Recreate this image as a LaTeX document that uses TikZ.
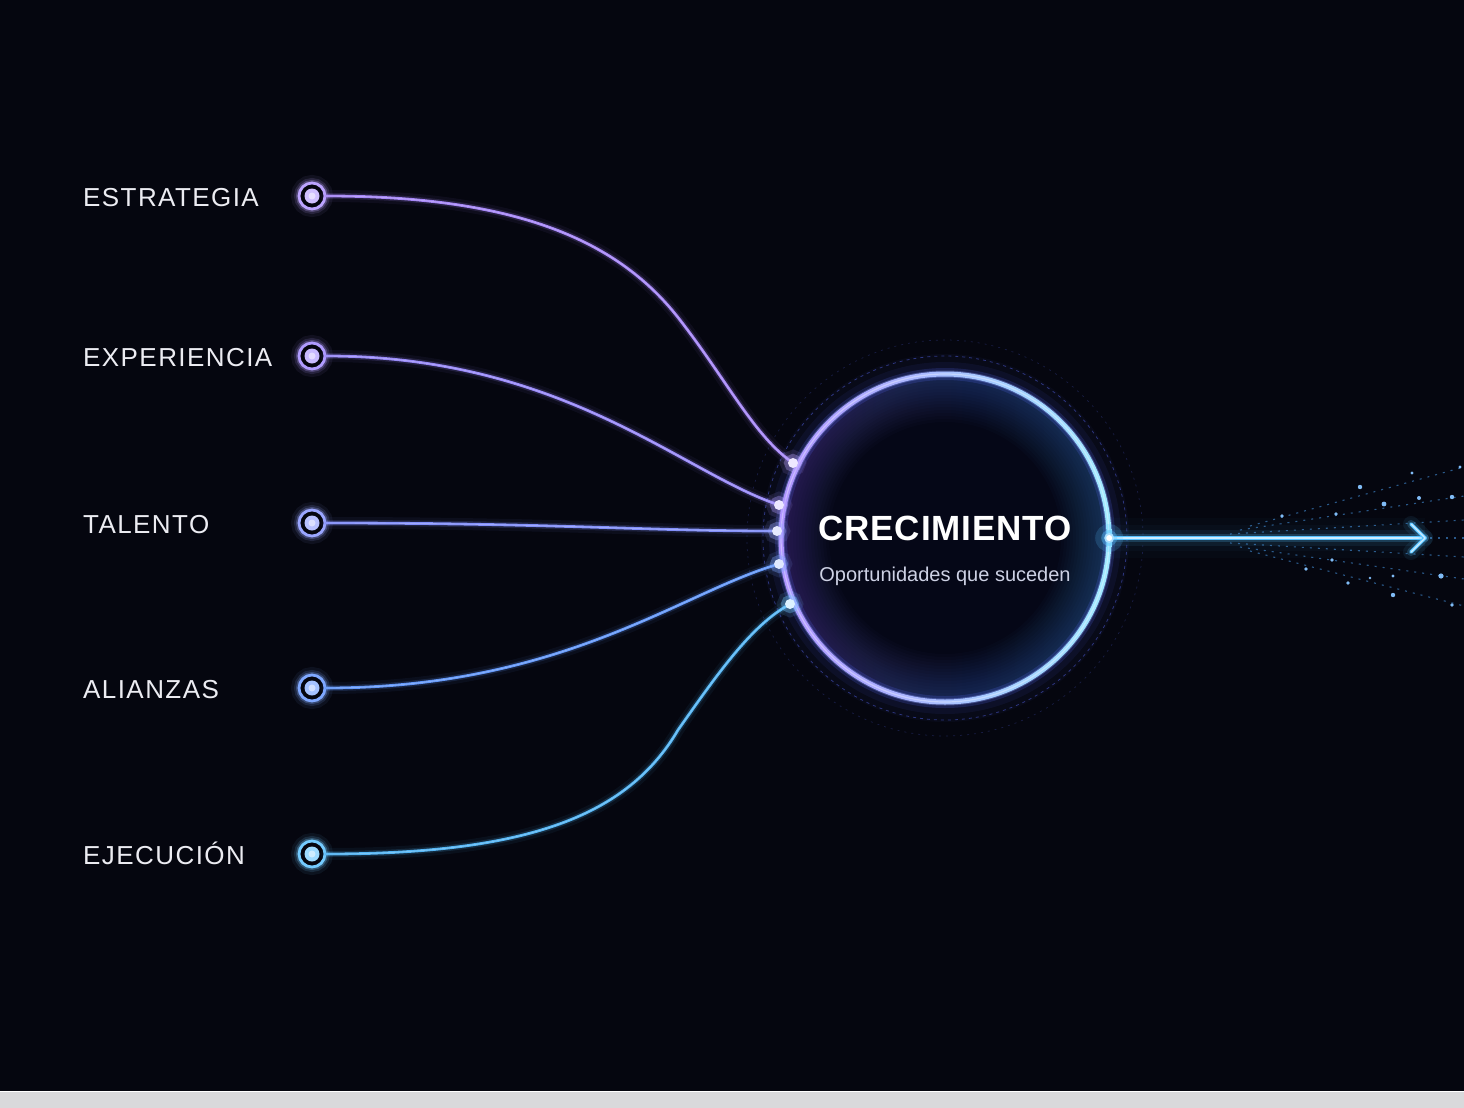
\documentclass[tikz,border=0pt]{standalone}
\usepackage{fontspec}
\setmainfont{Liberation Sans}
\newfontfamily\labelfont[LetterSpace=5.5]{Liberation Sans}
\newfontfamily\titlefont[LetterSpace=2.5]{Liberation Sans}
\usetikzlibrary{calc}
\definecolor{bg}{HTML}{05060F}
\definecolor{stripc}{HTML}{D9D9DB}
\definecolor{lbltext}{HTML}{ECECF2}
\definecolor{subtext}{HTML}{CDD1E4}
\definecolor{cA}{HTML}{A585F7}
\definecolor{cB}{HTML}{9687F8}
\definecolor{cC}{HTML}{818EFA}
\definecolor{cD}{HTML}{6196F8}
\definecolor{cE}{HTML}{52B4F4}
\definecolor{rA}{HTML}{BCA4FF}
\definecolor{rB}{HTML}{B09CFF}
\definecolor{rC}{HTML}{9AA6FF}
\definecolor{rD}{HTML}{7FA8FF}
\definecolor{rE}{HTML}{74CBFF}
\definecolor{ringL}{HTML}{B195FF}
\definecolor{ringM}{HTML}{8FA2FF}
\definecolor{ringR}{HTML}{A0EAFF}
\definecolor{glowc}{HTML}{5A6CFF}
\definecolor{innerL}{HTML}{7A5CE0}
\definecolor{innerM}{HTML}{3A48C8}
\definecolor{innerR}{HTML}{3FA0F0}
\definecolor{beamc}{HTML}{56C2FF}
\definecolor{dotc}{HTML}{4A9EF0}
\definecolor{orbC}{HTML}{050717}
\tikzset{
  lbl/.style={text=lbltext, inner sep=0pt, font=\labelfont\fontsize{26}{30}\selectfont},
  marker/.style={circle, inner sep=0pt, minimum size=26pt, draw=#1, line width=2.8pt, fill=bg,
    preaction={draw=#1, line width=16pt, opacity=0.07},
    preaction={draw=#1, line width=10pt, opacity=0.14},
    preaction={draw=#1, line width=6pt, opacity=0.28},
    path picture={\fill[#1!70!white] (path picture bounding box.center) circle[radius=7.5pt];
                  \fill[white, opacity=0.5] (path picture bounding box.center) circle[radius=3.5pt];}},
  wire/.style={draw=#1, line width=2.8pt, line cap=round,
    preaction={draw=#1, line width=12pt, opacity=0.06, line cap=round},
    preaction={draw=#1, line width=6pt, opacity=0.16, line cap=round},
    postaction={draw=white, opacity=0.25, line width=0.9pt, line cap=round}},
  tipspot/.style={circle, inner sep=0pt, minimum size=10pt},
  tipglow/.style={fill=#1!25!white,
    preaction={draw=#1, line width=16pt, opacity=0.12},
    preaction={draw=#1, line width=8pt, opacity=0.35}},
  beam/.style={draw=beamc, line width=3.6pt, line cap=round, line join=round,
    preaction={draw=beamc, line width=16pt, opacity=0.08, line cap=round, line join=round},
    preaction={draw=beamc, line width=8pt, opacity=0.2, line cap=round, line join=round},
    postaction={draw=white!70!beamc, line width=1.4pt, line cap=round, line join=round}},
  spark/.style={draw=dotc, line width=1.1pt, opacity=0.55, dash pattern=on 2pt off 6pt},
}
\begin{document}
\begin{tikzpicture}[x=1pt, y=-1pt]
\useasboundingbox (0,0) rectangle (1464,1108);
% background
\fill[bg] (0,0) rectangle (1464,1091);
\fill[stripc] (0,1091) rectangle (1464,1108);
\draw[white, line width=1.2pt] (0,1091.6) -- (1464,1091.6);

% hub
\node[circle, inner sep=0pt, minimum size=328pt] (hub) at (945,538) {};
% soft halo
\foreach \r in {170,178,...,290}
  \fill[glowc, opacity=0.005] (hub.center) circle[radius=\r];
\draw[draw=glowc, opacity=0.45, line width=0.8pt, dash pattern=on 3pt off 4pt] (hub.center) circle[radius=182];
\draw[draw=glowc, opacity=0.22, line width=0.7pt, dash pattern=on 2pt off 5pt] (hub.center) circle[radius=198];
% ring glow outside
\draw[draw=glowc, opacity=0.04, line width=40pt] (hub.center) circle[radius=164];
\draw[draw=glowc, opacity=0.07, line width=24pt] (hub.center) circle[radius=164];
\fill[orbC] (hub.center) circle[radius=164];
% glassy inner glow
\foreach \w in {3,6,...,48}
  \path[left color=innerL, middle color=innerM, right color=innerR, opacity=0.022, even odd rule]
    (hub.center) circle[radius=164] (hub.center) circle[radius=164-\w];
\draw[draw=glowc, opacity=0.18, line width=12pt] (hub.center) circle[radius=164];
\draw[draw=ringM, opacity=0.35, line width=7pt] (hub.center) circle[radius=164];
\path[left color=ringL, middle color=ringM, right color=ringR, even odd rule]
  (hub.center) circle[radius=166.5] (hub.center) circle[radius=161.5];
\draw[white, opacity=0.35, line width=1.2pt] (hub.center) circle[radius=164];

% texts in hub
\node[text=white, inner sep=0pt, anchor=base, font=\titlefont\bfseries\fontsize{35}{40}\selectfont] (title) at (945,540) {CRECIMIENTO};
\node[text=subtext, inner sep=0pt, anchor=base, font=\fontsize{20}{24}\selectfont] (sub) at (945,581) {Oportunidades que suceden};

% output beam
\coordinate (tip) at (1425,538);
\draw[draw=beamc, opacity=0.025, line width=40pt] (hub.east) -- (tip);
\draw[draw=beamc, opacity=0.03, line width=26pt] (hub.east) -- (tip);
\draw[spark] (1250,526) -- (1464,467);
\draw[spark] (1240,530) -- (1464,496);
\draw[spark] (1230,534) -- (1464,520);
\draw[spark] (1430,538) -- (1464,538);
\draw[spark] (1230,543) -- (1464,557);
\draw[spark] (1240,547) -- (1464,579);
\draw[spark] (1250,551) -- (1464,606);
\foreach \p/\r in {{1282,516}/1.8, {1360,487}/2.2, {1384,504}/2.4, {1412,473}/1.6, {1419,498}/2, {1452,497}/2.2, {1336,514}/1.8,
                   {1332,560}/1.8, {1306,569}/1.8, {1348,583}/1.8, {1370,578}/1.4, {1393,576}/1.6, {1441,576}/2.6, {1393,595}/2.2, {1452,605}/1.8, {1460,467}/1.6}
  \fill[dotc!70!white] (\p) circle[radius=\r];
\draw[beam] (hub.east) -- (tip);
\draw[beam] ($(tip)+(-14,-14)$) -- (tip) -- ($(tip)+(-14,14)$);
\fill[beamc, opacity=0.18] (hub.east) circle[radius=14];
\fill[beamc, opacity=0.35] (hub.east) circle[radius=8];
\fill[white!50!beamc] (hub.east) circle[radius=5];
\fill[white] (hub.east) circle[radius=3];

% endpoint spots on the hub
\node[tipspot] (d1) at (793,463) {};
\node[tipspot] (d2) at (779,505) {};
\node[tipspot] (d3) at (777,531) {};
\node[tipspot] (d4) at (779,564) {};
\node[tipspot] (d5) at (790,604) {};

% input markers
\node[marker=rA] (n1) at (312,196) {};
\node[marker=rB] (n2) at (312,356) {};
\node[marker=rC] (n3) at (312,523) {};
\node[marker=rD] (n4) at (312,688) {};
\node[marker=rE] (n5) at (312,854) {};

% labels
\node[lbl, anchor=base west] (l1) at (83,206) {ESTRATEGIA};
\node[lbl, anchor=base west] (l2) at (83,366) {EXPERIENCIA};
\node[lbl, anchor=base west] (l3) at (83,533) {TALENTO};
\node[lbl, anchor=base west] (l4) at (83,698) {ALIANZAS};
\node[lbl, anchor=base west] (l5) at (83,864) {EJECUCIÓN};

% connectors
\draw[wire=cA] (n1.east) .. controls (520,196) and (620,242) .. (680,320) .. controls (725,378) and (753,433) .. (d1);
\draw[wire=cB] (n2.east) .. controls (560,356) and (680,470) .. (d2);
\draw[wire=cC] (n3.east) .. controls (550,523) and (650,531) .. (d3);
\draw[wire=cD] (n4.east) .. controls (560,688) and (680,594) .. (d4);
\draw[wire=cE] (n5.east) .. controls (530,854) and (628,815) .. (678,730) .. controls (718,673) and (750,628) .. (d5);

% glowing spots
\path[tipglow=rA] (d1.center) circle[radius=5];
\path[tipglow=rB] (d2.center) circle[radius=5];
\path[tipglow=rC] (d3.center) circle[radius=5];
\path[tipglow=rD] (d4.center) circle[radius=5];
\path[tipglow=rE] (d5.center) circle[radius=5];
\end{tikzpicture}
\end{document}
